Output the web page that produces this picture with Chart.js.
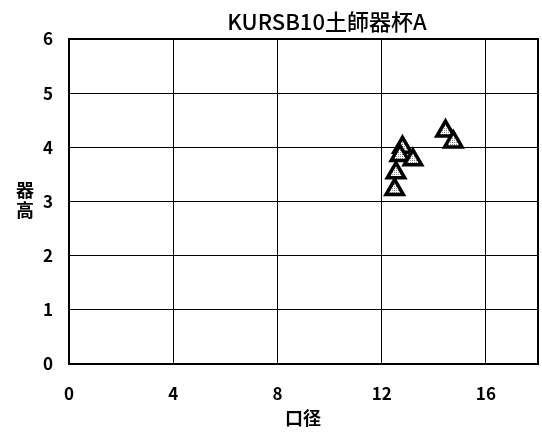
<!DOCTYPE html>
<html lang="ja">
<head>
<meta charset="UTF-8">
<title>KURSB10土師器杯A</title>
<script src="https://cdn.jsdelivr.net/npm/chart.js"></script>
<style>
  body { margin: 0; background: #fff; }
  #wrap { width: 542px; height: 437px; position: relative; }
</style>
</head>
<body>
<div id="wrap"><canvas id="scatter" width="542" height="437"></canvas></div>
<script>
// data
const diameter = [12.8, 12.7, 13.2, 12.55, 12.5, 14.45, 14.75];
const height   = [4.0, 3.85, 3.77, 3.53, 3.22, 4.3, 4.1];
const xTicks = [0, 4, 8, 12, 16];
const yTicks = [0, 1, 2, 3, 4, 5, 6];

const chartTitle = 'KURSB10土師器杯A';
const xLabel = '口径';
const yLabel = '器高';

const FONT = '"Noto Sans CJK JP", "Noto Sans", sans-serif';

// dotted gray fill for the triangles
function dotPattern() {
    const c = document.createElement('canvas');
    c.width = 2; c.height = 2;
    const g = c.getContext('2d');
    g.fillStyle = '#fff';
    g.fillRect(0, 0, 2, 2);
    g.fillStyle = '#888';
    g.fillRect(0, 0, 1, 1);
    return g.createPattern(c, 'repeat');
}

const labelsPlugin = {
    id: 'labels',
    afterDraw(chart) {
        const ctx = chart.ctx;
        const a = chart.chartArea;
        ctx.save();
        // frame
        ctx.strokeStyle = '#000';
        ctx.lineWidth = 2;
        ctx.strokeRect(a.left, a.top, a.right - a.left, a.bottom - a.top);
        ctx.fillStyle = '#000';
        ctx.textAlign = 'center';
        ctx.textBaseline = 'middle';
        // title
        ctx.font = '500 22px ' + FONT;
        ctx.fillText(chartTitle, 327, 22);
        // x axis label
        ctx.font = 'bold 18px ' + FONT;
        ctx.fillText(xLabel, 303, 418);
        // y axis label, stacked
        ctx.fillText(yLabel[0], 25, 190);
        ctx.fillText(yLabel[1], 25, 210);
        ctx.restore();
    }
};

const noPad = s => { s.paddingLeft = 0; s.paddingRight = 0; s.paddingTop = 0; s.paddingBottom = 0; };

new Chart(document.getElementById('scatter'), {
    type: 'scatter',
    data: {
        datasets: [{
            data: diameter.map((d, i) => ({ x: d, y: height[i] })),
            pointStyle: 'triangle',
            pointRadius: 10,
            pointHoverRadius: 10,
            borderColor: '#000',
            borderWidth: 3.5,
            backgroundColor: dotPattern()
        }]
    },
    options: {
        responsive: false,
        animation: false,
        layout: { autoPadding: false, padding: { top: 39, right: 4, left: 0, bottom: 0 } },
        plugins: {
            legend: { display: false },
            tooltip: { enabled: false },
            title: { display: false }
        },
        scales: {
            x: {
                type: 'linear',
                min: 0,
                max: 18,
                afterBuildTicks: s => { s.ticks = xTicks.map(v => ({ value: v })); },
                afterFit: s => { s.height = 73; noPad(s); },
                grid: { color: '#000', lineWidth: 1, drawTicks: false },
                border: { color: '#000', width: 2 },
                ticks: {
                    padding: 19,
                    color: '#000',
                    font: { family: FONT, size: 17, weight: 'bold' }
                }
            },
            y: {
                min: 0,
                max: 6,
                afterBuildTicks: s => { s.ticks = yTicks.map(v => ({ value: v })); },
                afterFit: s => { s.width = 69; noPad(s); },
                grid: { color: '#000', lineWidth: 1, drawTicks: false },
                border: { color: '#000', width: 2 },
                ticks: {
                    padding: 16,
                    color: '#000',
                    font: { family: FONT, size: 17, weight: 'bold' }
                }
            }
        }
    },
    plugins: [labelsPlugin]
});
</script>
</body>
</html>
